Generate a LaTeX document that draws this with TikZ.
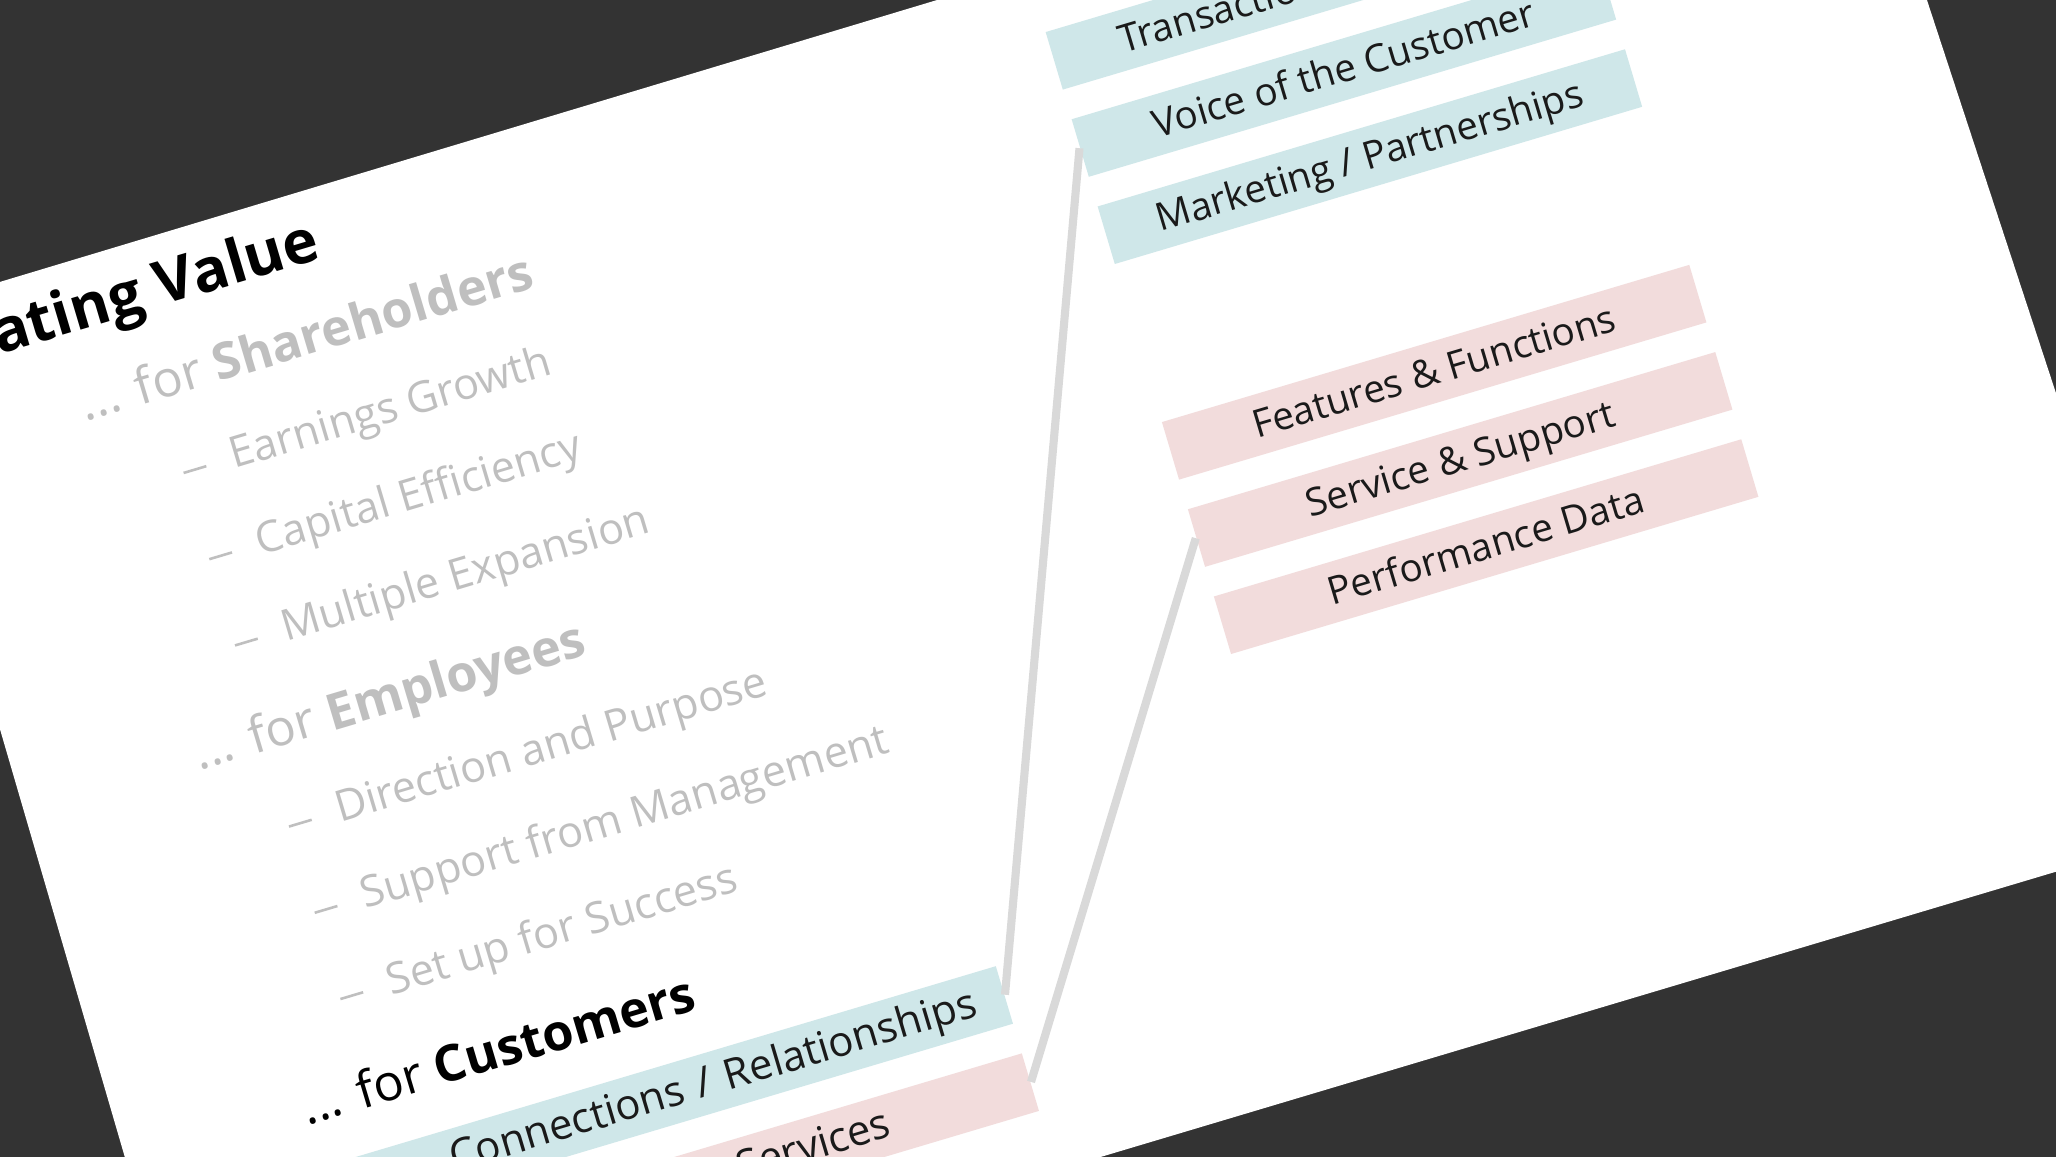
\documentclass[tikz,border=0pt]{standalone}
\usepackage{fontspec}
\setmainfont{Open Sans}
\usetikzlibrary{positioning}
\definecolor{slidebg}{HTML}{333333}
\definecolor{subgray}{HTML}{BFBFBF}
\definecolor{linkgray}{HTML}{D9D9D9}
\definecolor{tealfill}{HTML}{CFE7E9}
\definecolor{pinkfill}{HTML}{F2DCDC}
\definecolor{textdark}{HTML}{1A1A1A}
\newcommand{\subdash}{\makebox[0.5cm][l]{\rule[0.22em]{0.55em}{0.06em}}}
\tikzset{
  headtext/.style={anchor=base west, inner sep=0pt,
    font=\fontsize{14.3}{17}\selectfont},
  subtext/.style={anchor=base west, inner sep=0pt, color=subgray,
    font=\fontsize{12.25}{14}\selectfont},
  tealbox/.style={rectangle, fill=tealfill, minimum width=5.5cm,
    minimum height=0.6cm, inner sep=0pt, text height=0.33cm, text depth=0.08cm,
    font=\fontsize{10.95}{13}\selectfont, text=textdark},
  pinkbox/.style={tealbox, fill=pinkfill},
  link/.style={line width=2.3pt, color=linkgray}
}
\begin{document}
\begin{tikzpicture}[x=0.01cm, y=0.01cm]
  \useasboundingbox (0,0) rectangle (2056,-1157);
  \clip (0,0) rectangle (2056,-1157);
  \fill[slidebg] (0,0) rectangle (2056,-1157);
  % the slide, seen at a tilt
  \fill[white] (-120,-318) -- (1838,271) -- (2199,-829) -- (203,-1425) -- cycle;

  % contents, coordinates measured along the slide's own edges
  \begin{scope}[shift={(-120,-318)}, rotate=16.6, transform shape]
    % title and outline
    \node[anchor=base east, inner sep=0pt,
      font=\fontsize{17.1}{20}\selectfont\bfseries] (title) at (442,-69) {Creating Value};
    \node[headtext, color=subgray] (share) at (167,-158) {... for \textbf{Shareholders}};
    \node[subtext] (earn) at (246,-246) {\subdash Earnings Growth};
    \node[subtext] (capit) at (246,-336) {\subdash Capital Efficiency};
    \node[subtext] (multi) at (246,-426) {\subdash Multiple Expansion};
    \node[headtext, color=subgray] (empl) at (176,-525) {... for \textbf{Employees}};
    \node[subtext] (direc) at (246,-615) {\subdash Direction and Purpose};
    \node[subtext] (suppo) at (246,-705) {\subdash Support from Management};
    \node[subtext] (setup) at (246,-795) {\subdash Set up for Success};
    \node[headtext, color=black] (cust) at (178,-896) {... for \textbf{Customers}};

    % value boxes
    \node[tealbox, text width=4.14cm, inner xsep=0.68cm, align=left]
      (trans) at (1474,-89) {Transactions};
    \node[tealbox] (voice) at (1474,-180) {Voice of the Customer};
    \node[tealbox] (market) at (1474,-271) {Marketing / Partnerships};
    \node[pinkbox] (feat) at (1474,-496) {Features \& Functions};
    \node[pinkbox] (serv) at (1474,-587) {Service \& Support};
    \node[pinkbox] (perf) at (1474,-678) {Performance Data};
    \node[tealbox, minimum width=6.84cm, text width=6.24cm, inner xsep=0.3cm,
      align=right, font=\fontsize{11.9}{14}\selectfont] (conn) at (542,-970) {Connections / Relationships};
    \node[pinkbox, minimum width=6.84cm, text width=3.9cm, inner xsep=1.47cm,
      align=right, font=\fontsize{11.9}{14}\selectfont] (prod) at (542,-1061) {Services};

    % links
    \draw[link] (conn.east) -- (voice.west);
    \draw[link] (prod.east) -- (serv.west);
  \end{scope}
\end{tikzpicture}
\end{document}
